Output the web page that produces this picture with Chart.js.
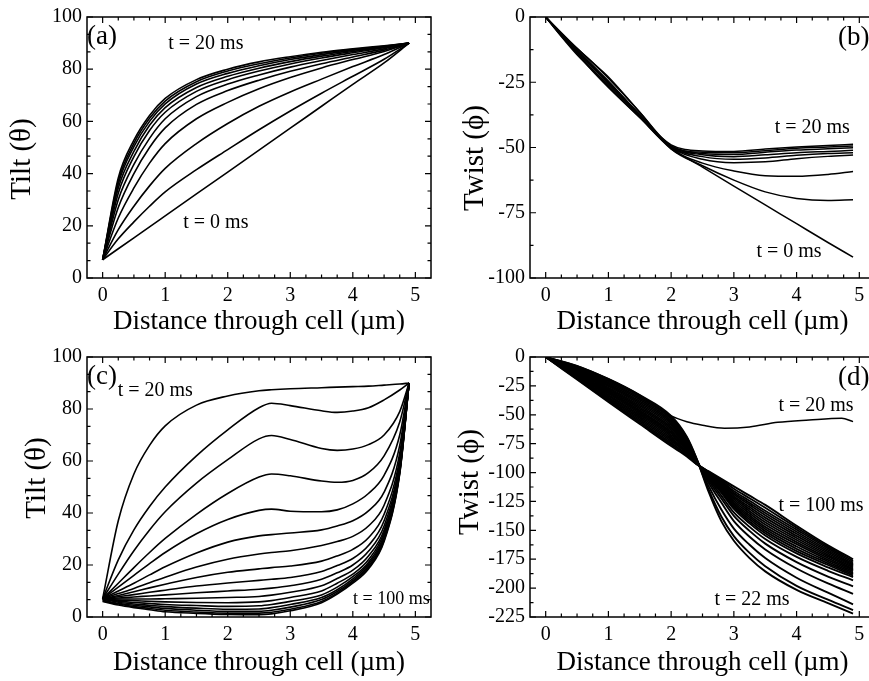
<!DOCTYPE html>
<html>
<head>
<meta charset="utf-8">
<script src="https://cdn.jsdelivr.net/npm/chart.js@4.4.0/dist/chart.umd.min.js"></script>
<style>
  body { margin: 0; background: #fff; }
  #wrap { position: relative; width: 869px; height: 681px; overflow: hidden; background: #fff; }
  #wrap canvas { position: absolute; }
</style>
</head>
<body>
<div id="wrap">
  <canvas id="chartA" width="440" height="340" style="left:0;top:0"></canvas>
  <canvas id="chartB" width="440" height="340" style="left:440px;top:0"></canvas>
  <canvas id="chartC" width="440" height="341" style="left:0;top:340px"></canvas>
  <canvas id="chartD" width="440" height="341" style="left:440px;top:340px"></canvas>
</div>
<script>
// tick labels
const X_TICKS = [0, 1, 2, 3, 4, 5];
const TILT_TICKS = [0, 20, 40, 60, 80, 100];
const TWIST_B_TICKS = [0, -25, -50, -75, -100];
const TWIST_D_TICKS = [0, -25, -50, -75, -100, -125, -150, -175, -200, -225];

// (a) tilt, t = 0 ... 20 ms
const A_X = [0, 0.25, 0.5, 0.75, 1, 1.5, 2, 2.5, 3, 3.5, 4, 4.5, 4.9];
const A_TILT = [
  [7, 11.2, 15.4, 19.6, 23.8, 32.2, 40.6, 49, 57.4, 65.8, 74.2, 82.4, 90],
  [7, 15, 21.5, 27.5, 33, 41.5, 49.2, 56.8, 64, 70.8, 77.3, 83.8, 90],
  [7, 18.5, 27.5, 35.3, 42, 51.5, 59.2, 65.8, 71.3, 76.2, 81, 85.6, 90],
  [7, 23, 34.5, 44, 51.5, 61, 67.3, 72.5, 76.8, 80.5, 83.7, 86.8, 90],
  [7, 27, 40, 50, 57.5, 66.5, 71.8, 75.8, 79.2, 82.1, 84.7, 87.3, 90],
  [7, 30, 43.5, 53.5, 61, 69.5, 74.3, 77.8, 80.8, 83.3, 85.6, 87.8, 90],
  [7, 32.5, 46.5, 56.5, 63.5, 71.5, 76, 79.3, 82, 84.3, 86.3, 88.2, 90],
  [7, 34.5, 48.5, 58.5, 65.3, 73, 77.3, 80.4, 82.9, 85, 86.8, 88.4, 90],
  [7, 36, 50.3, 60, 66.7, 74.3, 78.4, 81.3, 83.7, 85.6, 87.2, 88.6, 90],
  [7, 37.2, 51.6, 61.2, 67.8, 75.2, 79.3, 82.1, 84.3, 86.1, 87.5, 88.8, 90],
  [7, 38.3, 52.8, 62.3, 68.8, 76, 80, 82.8, 84.8, 86.5, 87.8, 89, 90]
];

// (b) twist, t = 0 ... 20 ms
const B_X = [0, 0.25, 0.5, 0.75, 1, 1.5, 2, 2.5, 3, 3.5, 4, 4.5, 4.9];
const B_TWIST = [
  [0, -6.5, -12.5, -18.5, -24.5, -37.5, -50, -57.5, -64.8, -72, -79.2, -86.4, -92],
  [0, -6, -12, -17.5, -23.5, -36.5, -50.5, -57, -62.5, -67, -69.5, -70.3, -70],
  [0, -7, -13.5, -19.5, -25.5, -38, -50.5, -56, -59, -60.8, -61, -60.3, -59.2],
  [0, -6.8, -13, -19, -25, -37.5, -50, -54.5, -55.8, -55.5, -54.3, -53.4, -52.9],
  [0, -7.5, -14.5, -20.5, -26.5, -38.5, -50, -53.5, -54.5, -54, -53, -52.3, -52],
  [0, -6.2, -12, -17.5, -23, -36.5, -49.5, -52.8, -53.5, -52.8, -52, -51.5, -51.1],
  [0, -7.3, -14, -20.8, -27, -38.5, -49.5, -52.3, -52.7, -51.8, -51, -50.5, -50.1],
  [0, -6.5, -12.8, -19, -25, -37.5, -49.5, -51.8, -52, -51.2, -50.3, -49.8, -49.4],
  [0, -7, -13.8, -20.2, -26, -38, -49, -51.3, -51.5, -50.6, -49.8, -49.2, -48.8]
];

// (c) tilt, t = 20 ... 100 ms
const C_X = [0, 0.25, 0.5, 0.75, 1, 1.5, 2, 2.5, 2.7, 3, 3.5, 3.75, 4, 4.25, 4.5, 4.75, 4.9];
const C_TILT = [
  [7, 37, 55, 66, 73.5, 81.5, 85, 87, 87.4, 87.8, 88.2, 88.4, 88.6, 88.8, 89.2, 89.6, 90],
  [7, 22, 33.5, 42.5, 50, 62, 72, 80.5, 82.2, 81.3, 79.3, 78.7, 79.2, 80.5, 83.5, 87.3, 90],
  [7, 16.5, 25.5, 33.5, 40.5, 51.5, 60.5, 68.5, 69.8, 68.3, 64.8, 64.1, 64.6, 66.3, 70, 79, 90],
  [7, 13, 19, 24.8, 30.2, 39.5, 47.5, 53.8, 55, 54.3, 52.3, 51.8, 52.5, 55.5, 62, 75, 90],
  [7, 11.5, 16, 20.5, 24.8, 32, 37.5, 41, 41.5, 40.7, 40.5, 41.2, 43.5, 47.5, 54.5, 70, 90],
  [7, 10, 13, 16.2, 19.3, 24.6, 28.8, 31.2, 31.7, 32.3, 33.5, 35, 37, 40.8, 48, 66, 90],
  [7, 9, 11, 13.2, 15.3, 19.2, 22.2, 24.2, 24.8, 25.5, 27.5, 29, 31, 35, 43, 63, 90],
  [7, 8.3, 9.7, 11.2, 12.6, 15.2, 17.2, 18.5, 19, 19.6, 21.5, 23.5, 26, 30.5, 39.5, 61, 90],
  [7, 7.8, 8.6, 9.5, 10.3, 11.9, 13.1, 14.1, 14.5, 15.2, 17.5, 19.8, 22.5, 27.5, 37, 59.5, 90],
  [7, 7.3, 7.7, 8.1, 8.5, 9.3, 10, 10.7, 11.1, 12, 14.5, 17, 20, 25.3, 35, 58.5, 90],
  [7, 6.9, 6.9, 6.9, 7, 7.2, 7.5, 7.9, 8.4, 9.5, 12, 14.8, 18, 23.5, 33.5, 57.5, 90],
  [7, 6.5, 6.3, 6, 5.8, 5.6, 5.5, 5.8, 6.3, 7.5, 10, 13, 16.5, 22, 32.5, 57, 90],
  [7, 6.1, 5.6, 5.2, 4.8, 4.4, 4.1, 4.3, 4.8, 6, 8.5, 11.5, 15.5, 21, 31.5, 56.5, 90],
  [6.8, 5.7, 5, 4.5, 4, 3.4, 3, 3.1, 3.6, 4.8, 7.5, 10.5, 14.7, 20.3, 30.7, 56, 90],
  [6.5, 5.3, 4.5, 3.9, 3.3, 2.6, 2.2, 2.2, 2.6, 3.8, 6.7, 9.8, 14, 19.6, 30, 55.7, 90],
  [6.2, 5, 4, 3.3, 2.6, 1.9, 1.5, 1.5, 1.8, 3, 6, 9.2, 13.5, 19, 29.5, 55.3, 90],
  [6, 4.6, 3.6, 2.8, 2, 1.4, 1, 0.9, 1.2, 2.4, 5.5, 8.8, 13, 18.5, 29, 55, 90]
];

// (d) twist, t = 20 ms on its own, then t = 22 ... 100 ms
const D20_X = [0, 0.5, 1, 1.5, 2, 2.25, 2.5, 2.85, 3.25, 3.7, 4.2, 4.72, 4.9];
const D20_TWIST = [0, -7.5, -19, -33, -51, -56, -59, -61.6, -60.5, -56.5, -54.5, -53, -55.9];
const D_X = [0, 0.5, 1, 1.5, 2, 2.25, 2.4, 2.6, 2.8, 3, 3.25, 3.5, 4, 4.5, 4.9];
const D_TWIST = [
  [0, -8, -19, -33, -51, -69, -87, -117, -142, -159, -174, -185.5, -201.5, -213, -222],
  [0, -8.6, -20.1, -34.3, -52.4, -69.9, -87.5, -115, -138, -155, -169.5, -181, -198, -210, -219],
  [0, -9.2, -21.1, -35.6, -53.7, -70.8, -88, -112, -132, -148.5, -162.5, -174, -191, -204, -214],
  [0, -9.8, -22.2, -36.9, -55.1, -71.7, -88.5, -109, -126, -142, -155.5, -166.5, -183, -196, -205],
  [0, -10.4, -23.2, -38.3, -56.5, -72.6, -89, -107, -122.5, -137.5, -150.5, -161.5, -177.5, -190, -198.5],
  [0, -11, -24.3, -39.6, -57.8, -73.5, -89.4, -105.5, -120, -134.5, -147, -157.5, -173, -185, -193.3],
  [0, -11.6, -25.3, -40.9, -59.2, -74.4, -89.8, -104.5, -117.5, -131.5, -144, -154.5, -170, -182, -190.5],
  [0, -12.2, -26.4, -42.2, -60.6, -75.3, -90.1, -104, -116.5, -130, -142.3, -152.5, -168, -180, -189.3],
  [0, -12.8, -27.4, -43.5, -61.9, -76.2, -90.4, -103.5, -115.5, -128.7, -140.5, -150.7, -166, -178.5, -188],
  [0, -13.4, -28.5, -44.8, -63.3, -77.1, -90.7, -103, -114.5, -127.3, -138.7, -148.8, -164, -177, -186.8],
  [0, -14.1, -29.5, -46.2, -64.7, -77.9, -91, -102.5, -113.5, -126, -137, -147, -162, -175.5, -185.6],
  [0, -14.7, -30.6, -47.5, -66, -78.8, -91.2, -102, -112.5, -124.5, -135.2, -145, -160.2, -174, -184.5],
  [0, -15.3, -31.6, -48.8, -67.4, -79.7, -91.4, -101.6, -111.6, -123, -133.4, -143, -158.4, -172.6, -183.4],
  [0, -15.9, -32.7, -50.1, -68.8, -80.6, -91.6, -101.2, -110.7, -121.6, -131.6, -141, -156.6, -171.2, -182.3],
  [0, -16.5, -33.7, -51.4, -70.2, -81.5, -91.8, -100.8, -109.8, -120.2, -129.8, -139, -154.8, -169.8, -181.2],
  [0, -17.1, -34.8, -52.7, -71.5, -82.4, -92, -100.4, -108.9, -118.8, -128, -137, -153, -168.4, -180.1],
  [0, -17.7, -35.8, -54.1, -72.9, -83.3, -92.1, -100, -108, -117.4, -126.2, -135, -151.2, -167, -179],
  [0, -18.3, -36.9, -55.4, -74.3, -84.2, -92.2, -99.7, -107.1, -116, -124.4, -133, -149.4, -165.6, -177.8],
  [0, -18.9, -37.9, -56.7, -75.6, -85.1, -92.4, -99.4, -106.3, -114, -122.2, -130.5, -147.7, -164.3, -176.4],
  [0, -19.5, -39, -58, -77, -86, -92.5, -99, -105.5, -112, -120, -128, -146, -163, -175]
];

const FONT = "'Liberation Serif', 'Times New Roman', Times, serif";
Chart.defaults.font.family = FONT;
Chart.defaults.color = '#000';

// frame with inward ticks on all four sides, panel texts, rotated y title
const panelDecor = {
  id: 'panelDecor',
  afterDatasetsDraw(chart, args, opts) {
    const { ctx, chartArea: a, scales: { x, y } } = chart;
    ctx.save();
    ctx.strokeStyle = '#000';
    ctx.lineWidth = 1.2;
    ctx.beginPath();
    for (let i = -1; i <= 21; i++) {
      const v = i / 4;
      const px = x.getPixelForValue(v);
      if (px < a.left + 1 || px > a.right - 1) continue;
      const len = i % 4 === 0 ? 6 : 3.5;
      ctx.moveTo(px, a.bottom); ctx.lineTo(px, a.bottom - len);
      ctx.moveTo(px, a.top); ctx.lineTo(px, a.top + len);
    }
    const maj = opts.yMajor;
    for (let i = 0; i < maj.length; i++) {
      const vals = [[maj[i], 6]];
      if (i < maj.length - 1) {
        for (let k = 1; k < opts.yDiv; k++) vals.push([maj[i] + (maj[i + 1] - maj[i]) * k / opts.yDiv, 3.5]);
      }
      vals.forEach(([v, len]) => {
        const py = y.getPixelForValue(v);
        ctx.moveTo(a.left, py); ctx.lineTo(a.left + len, py);
        ctx.moveTo(a.right, py); ctx.lineTo(a.right - len, py);
      });
    }
    ctx.stroke();
    ctx.lineWidth = 1.5;
    ctx.strokeRect(a.left, a.top, a.right - a.left, a.bottom - a.top);

    ctx.fillStyle = '#000';
    ctx.textBaseline = 'middle';
    opts.texts.forEach(t => {
      ctx.font = (t.size || 20) + 'px ' + FONT;
      ctx.textAlign = t.align || 'center';
      ctx.fillText(t.text, x.getPixelForValue(t.x), y.getPixelForValue(t.y));
    });

    ctx.translate(opts.titleX, opts.titleY);
    ctx.rotate(-Math.PI / 2);
    ctx.font = '29px ' + FONT;
    ctx.textAlign = 'center';
    ctx.fillText(opts.title, 0, 0);
    ctx.restore();
  }
};

function makeSets(xs, curves, width) {
  return curves.map(c => ({
    data: c.map((v, i) => ({ x: xs[i], y: v })),
    showLine: true,
    borderColor: '#000',
    borderWidth: width,
    pointRadius: 0,
    cubicInterpolationMode: 'monotone',
    fill: false
  }));
}

function makePanel(id, datasets, yRange, yTicks, yDiv, deco, box) {
  new Chart(document.getElementById(id), {
    type: 'scatter',
    data: { datasets: datasets },
    options: {
      responsive: false,
      animation: false,
      events: [],
      layout: { padding: { left: 0, right: box.right, top: box.top, bottom: 0 } },
      plugins: {
        legend: { display: false },
        tooltip: { enabled: false },
        panelDecor: Object.assign({ yMajor: yTicks, yDiv: yDiv }, deco)
      },
      scales: {
        x: {
          type: 'linear', min: -0.25, max: 5.25,
          afterBuildTicks: s => { s.ticks = X_TICKS.map(v => ({ value: v })); },
          afterFit: s => { s.height = box.xh; },
          grid: { display: false, drawTicks: false },
          border: { display: false },
          ticks: { font: { size: 20 }, color: '#000', padding: 6, maxRotation: 0, autoSkip: false },
          title: { display: true, text: 'Distance through cell (µm)', font: { size: 27 }, color: '#000', padding: { top: 0, bottom: 2 } }
        },
        y: {
          type: 'linear', min: yRange[0], max: yRange[1],
          afterBuildTicks: s => { s.ticks = yTicks.map(v => ({ value: v })); },
          afterFit: s => { s.width = box.yw; },
          grid: { display: false, drawTicks: false },
          border: { display: false },
          ticks: { font: { size: 20 }, color: '#000', padding: 5, autoSkip: false }
        }
      }
    },
    plugins: [panelDecor]
  });
}

makePanel('chartA', makeSets(A_X, A_TILT, 1.6), [0, 100], TILT_TICKS, 3, {
  title: 'Tilt (θ)', titleX: 22, titleY: 159,
  texts: [
    { text: '(a)', x: -0.25, y: 92.5, align: 'left', size: 27 },
    { text: 't = 20 ms', x: 1.65, y: 89.7 },
    { text: 't = 0 ms', x: 1.81, y: 21.3 }
  ]
}, { right: 9, top: 15, xh: 62, yw: 87 });

makePanel('chartB', makeSets(B_X, B_TWIST, 1.5), [-100, 0], TWIST_B_TICKS, 2, {
  title: 'Twist (ϕ)', titleX: 35, titleY: 158,
  texts: [
    { text: '(b)', x: 4.66, y: -8, align: 'left', size: 27 },
    { text: 't = 20 ms', x: 4.25, y: -42.6 },
    { text: 't = 0 ms', x: 3.88, y: -90.1 }
  ]
}, { right: 5, top: 15, xh: 62, yw: 90 });

makePanel('chartC', makeSets(C_X, C_TILT, 1.6), [0, 100], TILT_TICKS, 3, {
  title: 'Tilt (θ)', titleX: 37, titleY: 138,
  texts: [
    { text: '(c)', x: -0.25, y: 92.5, align: 'left', size: 27 },
    { text: 't = 20 ms', x: 0.24, y: 87.1, align: 'left' },
    { text: 't = 100 ms', x: 5.23, y: 6.8, align: 'right', size: 18 }
  ]
}, { right: 9, top: 14, xh: 64, yw: 87 });

makePanel('chartD', makeSets(D20_X, [D20_TWIST], 1.5).concat(makeSets(D_X, D_TWIST, 1.9)), [-225, 0], TWIST_D_TICKS, 2, {
  title: 'Twist (ϕ)', titleX: 30, titleY: 142,
  texts: [
    { text: '(d)', x: 4.66, y: -18, align: 'left', size: 27 },
    { text: 't = 20 ms', x: 4.31, y: -42.3 },
    { text: 't = 100 ms', x: 3.71, y: -128.3, align: 'left' },
    { text: 't = 22 ms', x: 3.29, y: -210.5 }
  ]
}, { right: 5, top: 14, xh: 64, yw: 90 });
</script>
</body>
</html>
